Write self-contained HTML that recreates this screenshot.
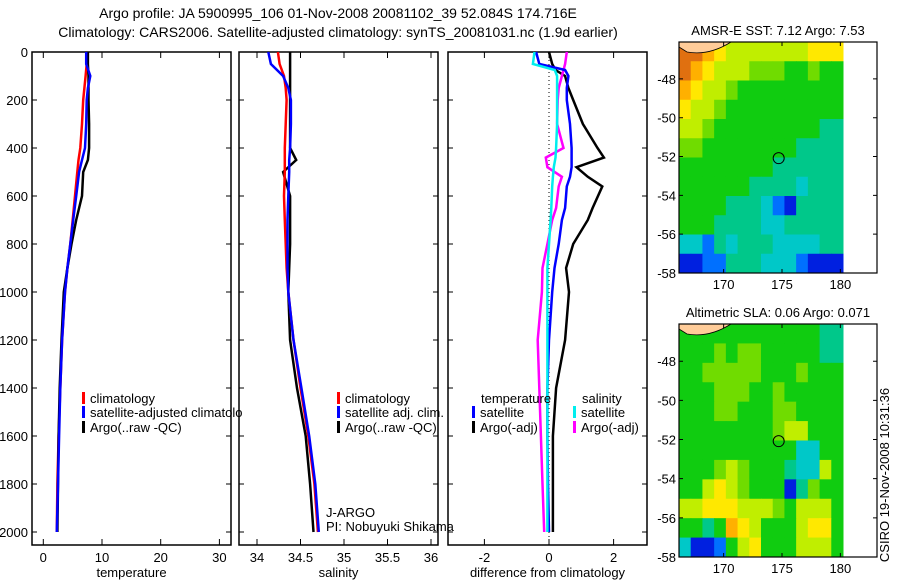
<!DOCTYPE html>
<html><head><meta charset="utf-8"><style>
body{margin:0;background:#fff;width:900px;height:580px;overflow:hidden}
svg{font-family:"Liberation Sans",sans-serif;font-size:13px}
.tt{font-size:14px}
</style></head><body>
<svg id="c" width="900" height="580" xmlns="http://www.w3.org/2000/svg">
<defs><clipPath id="cp1"><rect x="32" y="52" width="211" height="493"/></clipPath></defs>
<text class="tt" x="338" y="18" text-anchor="middle">Argo profile: JA 5900995_106 01-Nov-2008 20081102_39 52.084S 174.716E</text>
<text class="tt" x="338" y="37" text-anchor="middle">Climatology: CARS2006. Satellite-adjusted climatology: synTS_20081031.nc (1.9d earlier)</text>
<text x="889" y="475" text-anchor="middle" transform="rotate(-90 889 475)">CSIRO 19-Nov-2008 10:31:36</text>
<g id="g"></g>
</svg>
<script>
// profile data
const depths=[0,50,100,150,200,300,400,450,500,600,700,800,900,1000,1200,1400,1600,1800,2000];
const climT=[7.5,7.4,7.2,7.0,6.8,6.6,6.3,6.0,5.8,5.4,5.0,4.6,4.1,3.7,3.2,2.9,2.6,2.4,2.3];
const satT=[7.3,7.3,8.0,7.6,7.4,7.3,7.1,6.6,6.1,5.6,5.1,4.6,4.1,3.7,3.2,2.9,2.7,2.5,2.3];
const argoT=[7.6,7.6,7.7,7.7,7.7,7.8,7.8,7.6,6.8,6.6,5.6,4.8,4.1,3.5,3.1,2.8,2.6,2.5,2.4];
const climS=[34.24,34.26,34.31,34.33,34.34,34.33,34.32,34.32,34.32,34.31,34.32,34.33,34.34,34.36,34.42,34.50,34.59,34.66,34.70];
const satS=[34.13,34.16,34.30,34.36,34.39,34.39,34.38,34.37,34.37,34.36,34.35,34.35,34.35,34.36,34.42,34.51,34.60,34.67,34.71];
const argoS=[34.38,34.38,34.38,34.38,34.38,34.38,34.38,34.45,34.30,34.38,34.38,34.38,34.37,34.36,34.38,34.46,34.56,34.61,34.65];
const dDepths=[0,50,75,100,150,200,300,400,440,480,520,560,650,700,800,900,1000,1200,1400,1600,1800,2000];
const dTargo=[0,0.1,0.2,0.5,0.6,0.75,1.05,1.5,1.7,0.85,1.2,1.65,1.35,1.2,0.75,0.53,0.62,0.5,0.22,0.12,0.12,0.12];
const dTsat=[-0.4,-0.3,0.5,0.6,0.55,0.55,0.65,0.7,0.7,0.7,0.65,0.55,0.5,0.4,0.3,0.17,0.1,0.0,-0.05,-0.05,-0.03,0.0];
const dSsat=[-0.45,-0.5,0.18,0.25,0.25,0.25,0.25,0.22,0.2,0.15,0.12,0.1,0.07,0.05,0.0,-0.05,-0.05,-0.05,-0.05,-0.05,-0.05,-0.05];
const dSargo=[0.55,0.5,0.45,0.4,0.3,0.27,0.25,0.45,-0.1,-0.05,0.4,0.3,0.22,0.1,-0.05,-0.2,-0.22,-0.35,-0.3,-0.25,-0.2,-0.15];
const depthTicks=[0,200,400,600,800,1000,1200,1400,1600,1800,2000];
const tTicks=[0,10,20,30];
const sTicks=[34,34.5,35,35.5,36];
const dTicks=[-2,0,2];
// map data (rows lat 46..58, cols lon 166..180), codes 0-A
const sstRows=["AA987777777888","A9877766655655","98776555555555","87765555555555","77655555555544","66555555554444","55555555444444","55555544443444","55554443214444","55544443344444","33243444333344","11224443332111"];
const slaRows=["55555555555544","55565665555544","55666665556555","55566655655555","55566555665555","55555555677555","55555555553355","55567655543375","55787655514655","77888777657775","55459875557885","31125785557775"];
const mapLatTicks=[48,50,52,54,56,58];
const mapLonTicks=[170,175,180];
const palette={"0":"#00008f","1":"#0020e0","2":"#0070ff","3":"#00c8c8","4":"#00c88a","5":"#10cc10","6":"#70dc00","7":"#c0ee00","8":"#ffe800","9":"#ffb000","A":"#e07010"};

const NS="http://www.w3.org/2000/svg", G=document.getElementById('g');
function mk(t,a,p){const e=document.createElementNS(NS,t);for(const k in a)e.setAttribute(k,a[k]);(p||G).appendChild(e);return e;}
const yD=d=>52+d*0.24;
function panel(name,x0,x1,xs,ticks,fmt,label,showY){
  const r=mk('rect',{x:x0,y:52,width:x1-x0,height:493,fill:'none',stroke:'#000','stroke-width':1.5});
  
  
  ticks.forEach(v=>{const x=xs(v);
    const l=mk('path',{d:`M${x} 545v-6M${x} 52v6`,stroke:'#000'});
    
    
    const t=mk('text',{x:x,y:562,'text-anchor':'middle'});t.textContent=fmt(v);
    
    });
  depthTicks.forEach(d=>{const y=yD(d);
    const l=mk('path',{d:`M${x0} ${y}h5M${x1} ${y}h-5`,stroke:'#000'});
    
    
    if(showY){const t=mk('text',{x:x0-4,y:y+5,'text-anchor':'end'});t.textContent=d;
      
      }});
  const t=mk('text',{x:(x0+x1)/2,y:577,'text-anchor':'middle'});t.textContent=label;
  
  
}
function line(name,vals,ds,xs,col){
  const d=vals.map((v,i)=>(i?'L':'M')+xs(v).toFixed(1)+' '+yD(ds[i]).toFixed(1)).join('');
  const p=mk('path',{d:d,fill:'none',stroke:col,'stroke-width':2.5});
  
  
}
function legend(name,x,y,col,txt,clip){
  const r=mk('rect',{x:x,y:y-11,width:3,height:12,fill:col});
  
  
  const t=mk('text',{x:x+8,y:y});t.textContent=txt;
  if(clip)t.setAttribute('clip-path','url(#cp1)');
  
  
}
const xT=v=>43.3+v*5.87, xS=v=>257+(v-34)*87, xDf=v=>549+v*32.3;
panel('temperature-panel',32,231,xT,tTicks,v=>v,'temperature',true);
line('temp-climatology-line',climT,depths,xT,'#f00');
line('temp-argo-line',argoT,depths,xT,'#000');
line('temp-satellite-line',satT,depths,xT,'#00f');
legend('legend-climatology',82,403,'#f00','climatology');
legend('legend-satellite-adjusted',82,417,'#00f','satellite-adjusted climatology',true);
legend('legend-argo-raw',82,432,'#000','Argo(..raw -QC)');
panel('salinity-panel',239,438,xS,sTicks,v=>v,'salinity',false);
line('sal-argo-line',argoS,depths,xS,'#000');
line('sal-climatology-line',climS,depths,xS,'#f00');
line('sal-satellite-line',satS,depths,xS,'#00f');
legend('legend-sal-climatology',337,403,'#f00','climatology');
legend('legend-sal-satellite',337,417,'#00f','satellite adj. clim.');
legend('legend-sal-argo',337,432,'#000','Argo(..raw -QC)');
let t=mk('text',{x:326,y:517});t.textContent='J-ARGO';


t=mk('text',{x:326,y:531});t.textContent='PI: Nobuyuki Shikama';


panel('difference-panel',448,647,xDf,dTicks,v=>v,'difference from climatology',false);
let z=mk('path',{d:`M${xDf(0)} 52V545`,stroke:'#000','stroke-dasharray':'1 3'});


line('diff-temp-argo-line',dTargo,dDepths,xDf,'#000');
line('diff-sal-argo-line',dSargo,dDepths,xDf,'#f0f');
line('diff-temp-satellite-line',dTsat,dDepths,xDf,'#00f');
line('diff-sal-satellite-line',dSsat,dDepths,xDf,'#0ee');
t=mk('text',{x:481,y:403});t.textContent='temperature';


t=mk('text',{x:582,y:403});t.textContent='salinity';


legend('legend-diff-temp-satellite',472,417,'#00f','satellite');
legend('legend-diff-temp-argo',472,432,'#000','Argo(-adj)');
legend('legend-diff-sal-satellite',573,417,'#0ee','satellite');
legend('legend-diff-sal-argo',573,432,'#f0f','Argo(-adj)');
function map(name,top,bot,rows,title){
  const x0=679,x1=877,dx1=843,lonX=l=>782+(l-175)*11.67,latY=l=>top+(l-46.1)*((bot-top)/11.9);
  const cw=(dx1-x0)/rows[0].length, ch=(bot-top)/rows.length;
  rows.forEach((row,i)=>row.split('').forEach((c,j)=>{
    const r=mk('rect',{x:(x0+j*cw).toFixed(2),y:(top+i*ch).toFixed(2),width:(cw+0.5).toFixed(2),height:(ch+0.5).toFixed(2),fill:palette[c]});
    
    }));
  const land=mk('path',{d:`M${x0} ${top}H${x0+52}Q${x0+30} ${top+14} ${x0+8} ${top+10}L${x0} ${top+5}Z`,fill:'#fc9',stroke:'#000','stroke-width':0.8});
  
  
  const fr=mk('rect',{x:x0,y:top,width:x1-x0,height:bot-top,fill:'none',stroke:'#000','stroke-width':1.2});
  
  
  mapLatTicks.forEach(l=>{const y=latY(l);
    const p=mk('path',{d:`M${x0} ${y}h4M${x1} ${y}h-4`,stroke:'#000'});
    
    
    const tx=mk('text',{x:x0-3,y:y+5,'text-anchor':'end'});tx.textContent='-'+l;
    
    });
  mapLonTicks.forEach(l=>{const x=lonX(l);
    const p=mk('path',{d:`M${x} ${bot}v-4M${x} ${top}v4`,stroke:'#000'});
    
    
    const tx=mk('text',{x:x,y:bot+16,'text-anchor':'middle'});tx.textContent=l;
    
    });
  const c=mk('circle',{cx:lonX(174.716),cy:latY(52.084),r:5.5,fill:'none',stroke:'#000'});
  
  
  const tt=mk('text',{x:(x0+x1)/2,y:top-7,'text-anchor':'middle'});tt.textContent=title;
  
  
}
map('sst-map',42,273,sstRows,'AMSR-E SST: 7.12 Argo: 7.53');
map('sla-map',324,557,slaRows,'Altimetric SLA: 0.06 Argo: 0.071');
</script>
</body></html>
